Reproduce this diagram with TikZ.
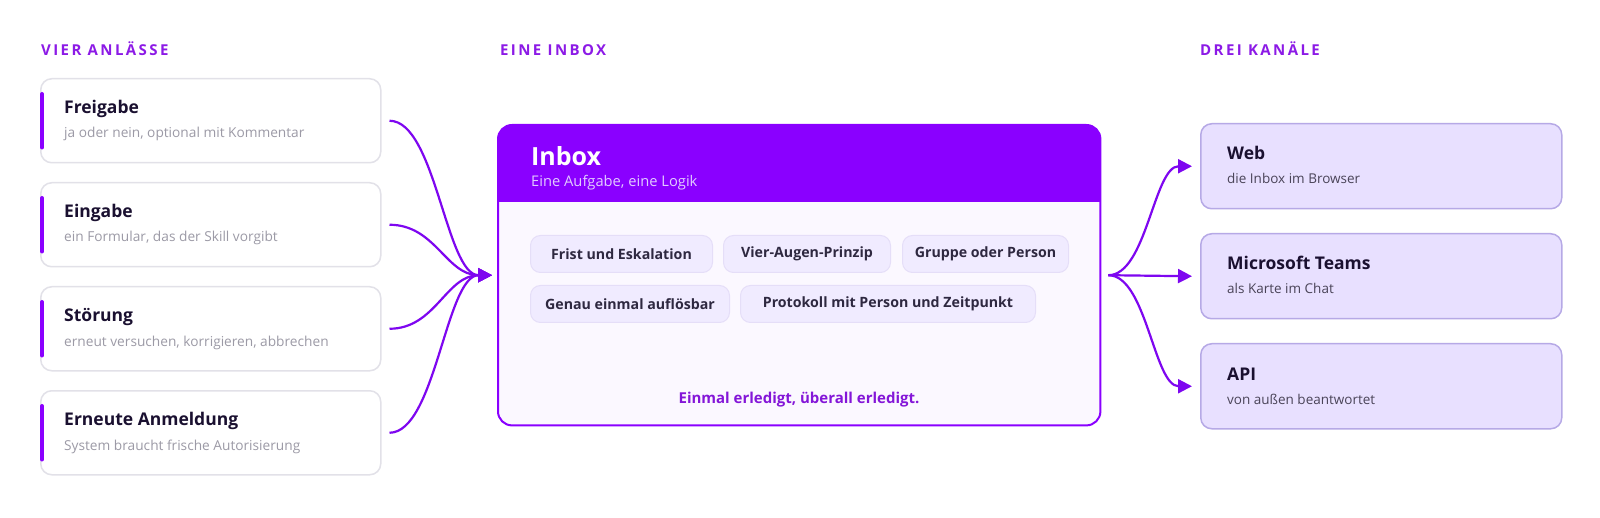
\documentclass[tikz,border=0pt]{standalone}
\usepackage{fontspec}
\setmainfont{Open Sans}
\usetikzlibrary{arrows.meta}
\definecolor{violetmain}{HTML}{8A00FF}
\definecolor{arrowc}{HTML}{7E06F0}
\definecolor{hdrc}{HTML}{8C1AE6}
\definecolor{cardline}{HTML}{E2E1E8}
\definecolor{ink}{HTML}{1A1030}
\definecolor{subgray}{HTML}{9C9AA6}
\definecolor{subdark}{HTML}{4A4458}
\definecolor{inboxbg}{HTML}{FBF8FF}
\definecolor{chipfill}{HTML}{F0EBFF}
\definecolor{chipline}{HTML}{E5DEF8}
\definecolor{chiptext}{HTML}{2E2840}
\definecolor{chanfill}{HTML}{E8E0FF}
\definecolor{chanline}{HTML}{B6A9E6}
\definecolor{inboxsub}{HTML}{E2CCFF}
\definecolor{footc}{HTML}{8416D8}
\begin{document}
\begin{tikzpicture}[x=1pt,y=-1pt,
  card/.style={draw=cardline, line width=1.5pt, fill=white, rounded corners=11pt, minimum width=340pt, minimum height=84pt, anchor=north west, inner sep=0pt},
  chan/.style={draw=chanline, line width=1.5pt, fill=chanfill, rounded corners=11pt, minimum width=361pt, minimum height=85pt, anchor=north west, inner sep=0pt},
  chip/.style={draw=chipline, line width=1pt, fill=chipfill, rounded corners=10pt, minimum height=37pt, anchor=north west, inner sep=0pt, font=\fontsize{14.2}{16}\selectfont\bfseries, text=chiptext},
  ttl/.style={anchor=base west, inner sep=0pt, font=\fontsize{17.5}{20}\selectfont\bfseries, text=ink},
  lsub/.style={anchor=base west, inner sep=0pt, font=\fontsize{13.7}{16}\selectfont, text=subgray},
  rsub/.style={anchor=base west, inner sep=0pt, font=\fontsize{13.5}{16}\selectfont, text=subdark},
  hdr/.style={anchor=base west, inner sep=0pt, font=\fontsize{15}{17}\selectfont\bfseries\addfontfeature{LetterSpace=16}, text=hdrc},
  accent/.style={draw=violetmain, line width=4pt, line cap=round},
  flow/.style={draw=arrowc, line width=2.2pt, -{Triangle[length=14pt,width=14pt]}}
]
\useasboundingbox[fill=white] (0,0) rectangle (1600,518);

% column headers
\node[hdr] (h1) at (41,56) {VIER ANLÄSSE};
\node[hdr] (h2) at (500,56) {EINE INBOX};
\node[hdr] (h3) at (1200,56) {DREI KANÄLE};

% left cards
\node[card] (c1) at (40,78) {};
\node[card] (c2) at (40,182) {};
\node[card] (c3) at (40,286) {};
\node[card] (c4) at (40,390) {};
\foreach \c/\t/\s in {c1/Freigabe/{ja oder nein, optional mit Kommentar},
                      c2/Eingabe/{ein Formular, das der Skill vorgibt},
                      c3/Störung/{erneut versuchen, korrigieren, abbrechen},
                      c4/Erneute Anmeldung/{System braucht frische Autorisierung}}{
  \draw[accent] ([xshift=2pt,yshift=-16pt]\c.north west) -- ([xshift=2pt,yshift=16pt]\c.south west);
  \node[ttl] (\c t) at ([xshift=24pt,yshift=-35.5pt]\c.north west) {\t};
  \node[lsub] (\c s) at ([xshift=24pt,yshift=-60pt]\c.north west) {\s};
}

% inbox
\node[fill=inboxbg, rounded corners=14pt, minimum width=602pt, minimum height=300pt, anchor=north west, inner sep=0pt] (inbox) at (498,125) {};
\begin{scope}
  \clip[rounded corners=14pt] (inbox.north west) rectangle (inbox.south east);
  \fill[violetmain] (inbox.north west) rectangle ([yshift=-77pt]inbox.north east);
\end{scope}
\draw[violetmain, line width=2pt, rounded corners=14pt] (inbox.north west) rectangle (inbox.south east);
\node[anchor=base west, inner sep=0pt, font=\fontsize{25}{30}\selectfont\bfseries, text=white] (ititle) at (531,166) {Inbox};
\node[anchor=base west, inner sep=0pt, font=\fontsize{14.7}{17}\selectfont, text=inboxsub] (isub) at (531,187) {Eine Aufgabe, eine Logik};

% chips
\node[chip, minimum width=182pt] (k1) at (530,235) {Frist und Eskalation};
\node[chip, minimum width=167pt] (k2) at (723,235) {Vier-Augen-Prinzip};
\node[chip, minimum width=166pt] (k3) at (902,235) {Gruppe oder Person};
\node[chip, minimum width=199pt] (k4) at (530,285) {Genau einmal auflösbar};
\node[chip, minimum width=295pt] (k5) at (740,285) {Protokoll mit Person und Zeitpunkt};

\node[anchor=base, inner sep=0pt, font=\fontsize{15}{18}\selectfont\bfseries, text=footc] (foot) at (799,403) {Einmal erledigt, überall erledigt.};

% right cards
\node[chan] (r1) at (1200,123) {};
\node[chan] (r2) at (1200,233) {};
\node[chan] (r3) at (1200,343) {};
\foreach \c/\t/\s in {r1/Web/{die Inbox im Browser},
                      r2/Microsoft Teams/{als Karte im Chat},
                      r3/API/{von außen beantwortet}}{
  \node[ttl] (\c t) at ([xshift=27pt,yshift=-37pt]\c.north west) {\t};
  \node[rsub] (\c s) at ([xshift=27pt,yshift=-61pt]\c.north west) {\s};
}

% connectors left
\coordinate (inpt) at ([xshift=-6pt]inbox.west);
\foreach \c in {c1,c2,c3,c4}{
  \draw[flow] ([xshift=8pt]\c.east) .. controls +(46,0) and +(-46,0) .. (inpt);
}
% connectors right
\coordinate (fan) at ([xshift=8pt]inbox.east);
\draw[flow] (fan) .. controls +(38,0) and +(-38,0) .. ([xshift=-8pt]r1.west);
\draw[flow] (fan) -- ([xshift=-8pt]r2.west);
\draw[flow] (fan) .. controls +(38,0) and +(-38,0) .. ([xshift=-8pt]r3.west);
\end{tikzpicture}
\end{document}
